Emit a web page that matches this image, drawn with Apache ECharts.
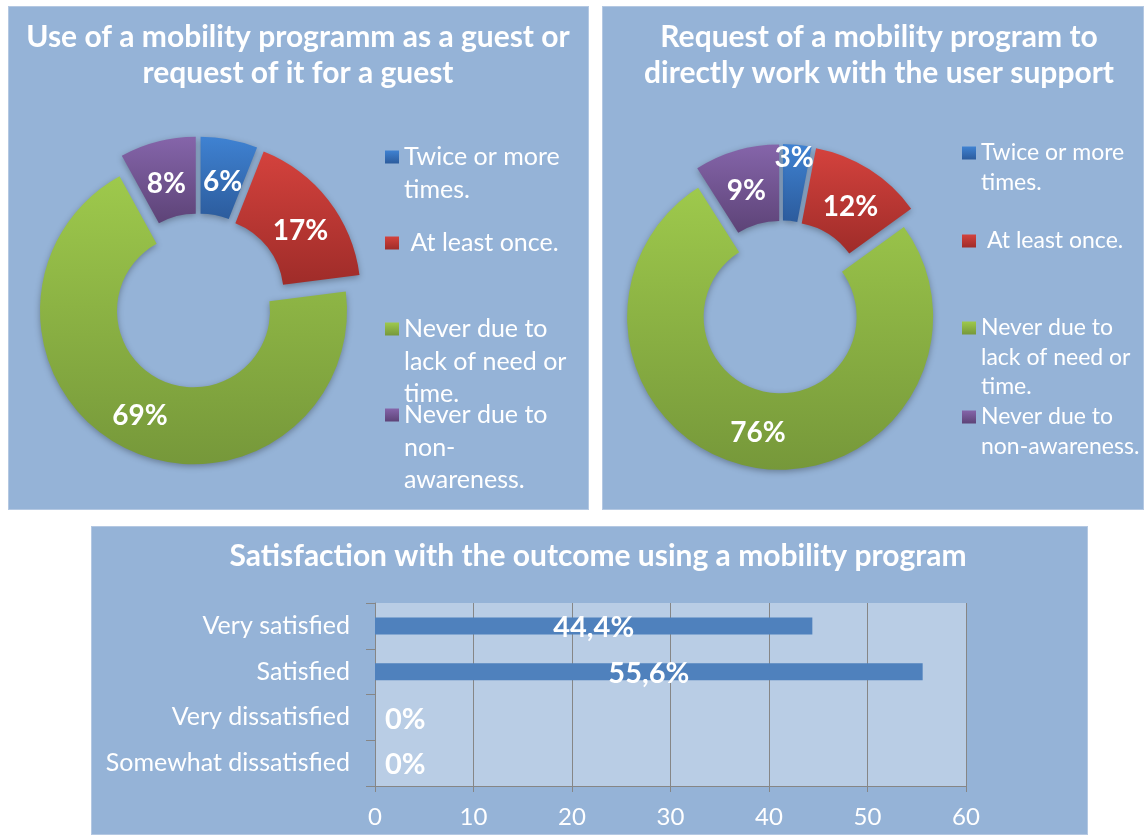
<!DOCTYPE html>
<html><head><meta charset="utf-8">
<script src="https://cdn.jsdelivr.net/npm/echarts@6/dist/echarts.min.js"></script>
<style>
html,body{margin:0;padding:0;background:#fff;width:1144px;height:835px;overflow:hidden;}
.panel{position:absolute;background:#95b3d7;box-shadow:inset 0 0 0 1px #b4c8e2;}
</style></head><body>
<div id="c1" class="panel" style="left:8px;top:6px;width:581px;height:504px"></div>
<div id="c2" class="panel" style="left:602px;top:6px;width:542px;height:504px"></div>
<div id="c3" class="panel" style="left:91px;top:526px;width:997px;height:309px"></div>
<script>
// ---- data ----
const pieCategories = ['Twice or more times.', 'At least once.', 'Never due to lack of need or time.', 'Never due to non-awareness.'];
const guestValues = [6, 17, 69, 8];
const supportValues = [3, 12, 76, 9];
const guestLegendLabels = ['Twice or more\ntimes.', ' At least once.', 'Never due to\nlack of need or\ntime.', 'Never due to\nnon-\nawareness.'];
const supportLegendLabels = ['Twice or more\ntimes.', ' At least once.', 'Never due to\nlack of need or\ntime.', 'Never due to\nnon-awareness.'];
const guestTitle = 'Use of a mobility programm as a guest or\nrequest of it for a guest';
const supportTitle = 'Request of a mobility program to\ndirectly work with the user support';
const satisfactionTitle = 'Satisfaction with the outcome using a mobility program';
const satisfactionCategories = ['Very satisfied', 'Satisfied', 'Very dissatisfied', 'Somewhat dissatisfied'];
const satisfactionValues = [44.4, 55.6, 0, 0];
const xTicks = [0, 10, 20, 30, 40, 50, 60];

// ---- styles ----
const FONT = 'Lato';
const sliceColors = [
  ['#3f82d2', '#2c5c9d'],
  ['#d4423d', '#9f2c29'],
  ['#9ec94c', '#76983a'],
  ['#8565aa', '#5d4377']
];
// vertical nudges of the slice labels (pixels, + = down)
const guestLabelShift = [8, 9, 0, 8];
const supportLabelShift = [-22, 8, 0, 7];

function grad(i) {
  return new echarts.graphic.LinearGradient(0, 0, 0, 1, [
    {offset: 0, color: sliceColors[i][0]},
    {offset: 1, color: sliceColors[i][1]}
  ]);
}

function shiftedLabel(s) {
  if (!s || Math.abs(s) < 3) return undefined;
  return s > 0
    ? {formatter: '\n{c}%', lineHeight: 2 * s}
    : {formatter: '{c}%\n', lineHeight: -2 * s};
}

function donutOption(title, titleX, values, legendLabels, center, radius, offset, legendX, iconCenters, lineH, legendFont, shifts) {
  return {
    animation: false,
    textStyle: {fontFamily: FONT},
    title: {
      text: title, left: titleX, textAlign: 'center', top: 13, padding: 0,
      textStyle: {color: '#fff', fontSize: 30, fontWeight: 'bold', fontFamily: FONT, lineHeight: 36}
    },
    legend: legendLabels.map((lab, i) => {
      const n = lab.split('\n').length;
      const text = '\n'.repeat(n - 1) + lab; // keep the marker on the first line
      return {
        data: [pieCategories[i]], orient: 'vertical', left: legendX,
        top: iconCenters[i] - (2 * n - 1) * lineH / 2, padding: 0,
        itemWidth: 14, itemHeight: 13, icon: 'rect', selectedMode: false,
        formatter: () => text,
        textStyle: {color: '#fff', fontSize: legendFont, fontFamily: FONT, lineHeight: lineH}
      };
    }),
    series: [{
      type: 'pie', center: center, radius: radius, startAngle: 90, clockwise: true,
      selectedMode: 'multiple', selectedOffset: offset, avoidLabelOverlap: false,
      label: {show: true, position: 'inside', formatter: '{c}%', color: '#fff', fontSize: 28, fontWeight: 'bold', fontFamily: FONT},
      labelLine: {show: false},
      emphasis: {disabled: true},
      select: {itemStyle: {borderWidth: 0}},
      itemStyle: {shadowBlur: 6, shadowColor: 'rgba(0,0,0,0.3)', shadowOffsetY: 2},
      data: pieCategories.map((name, i) => ({
        name: name, value: values[i], selected: true,
        itemStyle: {color: grad(i)},
        label: shiftedLabel(shifts[i])
      }))
    }]
  };
}

const c1 = echarts.init(document.getElementById('c1'));
c1.setOption(donutOption(guestTitle, 290, guestValues, guestLegendLabels,
  [190.5, 295], [76.5, 153.5], 11, 377, [151, 237, 323, 409], 32.5, 25, guestLabelShift));

const c2 = echarts.init(document.getElementById('c2'));
c2.setOption(donutOption(supportTitle, 277, supportValues, supportLegendLabels,
  [180, 301], [76.5, 153], 10, 360, [147, 235, 322, 411], 29.5, 23, supportLabelShift));

const c3 = echarts.init(document.getElementById('c3'));
c3.setOption({
  animation: false,
  textStyle: {fontFamily: FONT},
  title: {
    text: satisfactionTitle, left: 507, textAlign: 'center', top: 12, padding: 0,
    textStyle: {color: '#fff', fontSize: 30, fontWeight: 'bold', fontFamily: FONT, lineHeight: 36}
  },
  grid: {left: 284, right: 122, top: 77, bottom: 49, show: true, backgroundColor: '#b9cde5', borderWidth: 0, containLabel: false},
  xAxis: {
    type: 'value', min: xTicks[0], max: xTicks[xTicks.length - 1], interval: xTicks[1] - xTicks[0],
    axisLine: {show: true, lineStyle: {color: '#868686', width: 1}},
    axisTick: {show: true, inside: false, length: 6, lineStyle: {color: '#868686'}},
    splitLine: {show: true, lineStyle: {color: '#868686', width: 1}},
    axisLabel: {color: '#fff', fontSize: 24, margin: 19, fontFamily: FONT}
  },
  yAxis: {
    type: 'category', inverse: true, data: satisfactionCategories,
    axisLine: {show: true, lineStyle: {color: '#868686', width: 1}},
    axisTick: {show: true, inside: false, length: 9, lineStyle: {color: '#868686'}},
    splitLine: {show: false},
    axisLabel: {color: '#fff', fontSize: 25, margin: 25, fontFamily: FONT}
  },
  series: [{
    type: 'bar', barWidth: 17,
    itemStyle: {color: '#4f81bd'},
    label: {
      show: true, position: 'inside', color: '#fff', fontSize: 29, fontWeight: 'bold', fontFamily: FONT,
      offset: [0, 2],
      formatter: p => (p.value === 0 ? '0' : p.value.toFixed(1).replace('.', ',')) + '%'
    },
    data: satisfactionValues.map(v => v === 0
      ? {value: v, label: {position: 'right', distance: 10}}
      : {value: v})
  }]
});
</script>
</body></html>
